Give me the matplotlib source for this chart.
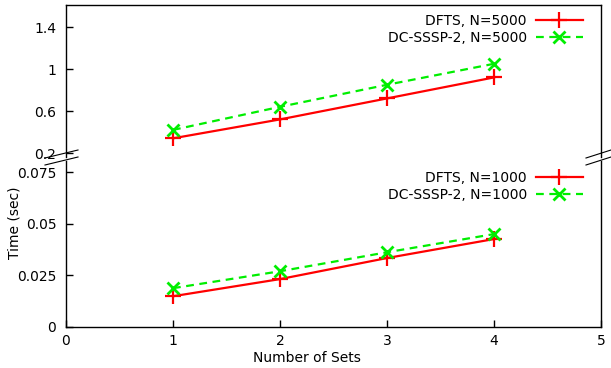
import matplotlib
matplotlib.use("Agg")
import matplotlib.pyplot as plt
from matplotlib.lines import Line2D

# ── data ──────────────────────────────────────────────────────────────────────
num_sets = [1, 2, 3, 4]

dfts_5000 = [0.34, 0.52, 0.72, 0.92]
dcsssp_5000 = [0.42, 0.64, 0.85, 1.05]

dfts_1000 = [0.0149, 0.0232, 0.0334, 0.0426]
dcsssp_1000 = [0.0188, 0.0270, 0.0362, 0.0450]

upper_ticks = [0.2, 0.6, 1, 1.4]
upper_ticklabels = ["0.2", "0.6", "1", "1.4"]
lower_ticks = [0, 0.025, 0.05, 0.075]
lower_ticklabels = ["0", "0.025", "0.05", "0.075"]
x_ticks = [0, 1, 2, 3, 4, 5]

RED = "#ff0000"
GREEN = "#00ee00"

W, H = 611, 368
fig = plt.figure(figsize=(W / 100, H / 100), dpi=100)
plt.rcParams["font.family"] = "DejaVu Sans"


def px_box(left, top, right, bottom):
    return [left / W, 1 - bottom / H, (right - left) / W, (bottom - top) / H]


ax_top = fig.add_axes(px_box(66, 5, 601, 157))
ax_bot = fig.add_axes(px_box(66, 161, 601, 327))

red_kw = dict(color=RED, lw=1.6, marker="+", ms=11, mew=1.6)
green_kw = dict(color=GREEN, lw=1.6, ls=(0, (3.5, 2.5)), marker="x", ms=9, mew=2)

ax_top.plot(num_sets, dfts_5000, label="DFTS, N=5000", **red_kw)
ax_top.plot(num_sets, dcsssp_5000, label="DC-SSSP-2, N=5000", **green_kw)
ax_bot.plot(num_sets, dfts_1000, label="DFTS, N=1000", **red_kw)
ax_bot.plot(num_sets, dcsssp_1000, label="DC-SSSP-2, N=1000", **green_kw)

for ax in (ax_top, ax_bot):
    ax.set_xlim(0, 5)
    for s in ax.spines.values():
        s.set_linewidth(1.0)
    ax.tick_params(direction="in", length=5, width=1, labelsize=10, pad=7,
                   right=False, top=False)

ax_top.set_ylim(0.162, 1.61)
ax_top.set_yticks(upper_ticks, upper_ticklabels)
ax_top.spines["bottom"].set_visible(False)
ax_top.tick_params(axis="x", bottom=False, labelbottom=False)

ax_bot.set_ylim(0, 0.0804)
ax_bot.set_yticks(lower_ticks, lower_ticklabels)
ax_bot.set_xticks(x_ticks)
ax_bot.tick_params(axis="x", pad=5)
ax_bot.spines["top"].set_visible(False)

leg_kw = dict(frameon=False, markerfirst=False, fontsize=10, handlelength=3.4,
              handletextpad=0.65, labelspacing=0.22, borderaxespad=0,
              borderpad=0, loc="upper right")
ax_top.legend(bbox_to_anchor=((583 - 66) / 535, 1 - 9 / 152), **leg_kw)
ax_bot.legend(bbox_to_anchor=((583 - 66) / 535, 1 - 10 / 166), **leg_kw)

# break marks on both sides of the y axis
for x0, x1 in ((45, 78), (586, 611)):
    for y0 in (158, 165):
        fig.add_artist(Line2D([x0 / W, x1 / W],
                              [1 - y0 / H, 1 - (y0 - 8) / H],
                              color="black", lw=0.8))

fig.text(15 / W, 1 - 223 / H, "Time (sec)", rotation=90, fontsize=10,
         ha="center", va="center")
fig.text(307 / W, 1 - 358 / H, "Number of Sets", fontsize=10,
         ha="center", va="center")

fig.savefig("out.png", dpi=100)
